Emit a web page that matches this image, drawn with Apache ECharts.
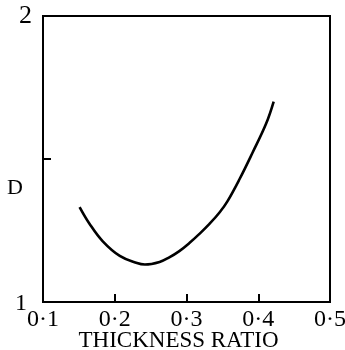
<!DOCTYPE html>
<html>
<head>
<meta charset="utf-8">
<script src="https://cdn.jsdelivr.net/npm/echarts@6/dist/echarts.min.js"></script>
<style>html,body{margin:0;padding:0;background:#fff;}#c{width:345px;height:350px;}</style>
</head>
<body>
<div id="c"></div>
<script>
var thicknessRatio = [0.151, 0.165, 0.183, 0.207, 0.231, 0.242, 0.2625, 0.276, 0.290, 0.304, 0.318, 0.332, 0.346, 0.357, 0.374, 0.392, 0.411, 0.4215];
var dValues = [1.332, 1.273, 1.213, 1.161, 1.136, 1.131, 1.140, 1.156, 1.178, 1.206, 1.238, 1.273, 1.313, 1.352, 1.430, 1.522, 1.624, 1.701];
var xTickLabels = ['0·1', '0·2', '0·3', '0·4', '0·5'];
var yTickLabels = {1: '1', 2: '2'};

var FONT = 'Liberation Serif';
var chart = echarts.init(document.getElementById('c'));
var pts = thicknessRatio.map(function (x, i) { return [x, dValues[i]]; });
chart.setOption({
  animation: false,
  backgroundColor: '#fff',
  grid: { left: 43, right: 15, top: 16, bottom: 48, show: true, borderColor: '#000', borderWidth: 2, containLabel: false, outerBoundsMode: 'none' },
  xAxis: {
    type: 'value', min: 0.1, max: 0.5, interval: 0.1,
    name: 'THICKNESS RATIO', nameLocation: 'middle', nameGap: 27, nameMoveOverlap: false,
    nameTextStyle: { fontFamily: FONT, fontSize: 23, color: '#000', padding: [0, 16, 0, 0] },
    axisLine: { show: true, lineStyle: { color: '#000', width: 2 } },
    axisTick: { show: true, inside: true, length: 8, lineStyle: { color: '#000', width: 2 } },
    splitLine: { show: false },
    axisLabel: {
      margin: 6, fontFamily: FONT, fontSize: 24, color: '#000',
      formatter: function (v) { var i = Math.round((v - 0.1) * 10); return xTickLabels[i] || ''; }
    }
  },
  yAxis: {
    type: 'value', min: 1, max: 2, interval: 0.5,
    axisLine: { show: true, lineStyle: { color: '#000', width: 2 } },
    axisTick: { show: true, inside: true, length: 8, lineStyle: { color: '#000', width: 2 } },
    splitLine: { show: false },
    axisLabel: {
      margin: 11, fontFamily: FONT, color: '#000',
      formatter: function (v) {
        var k = Math.round(v * 10) / 10;
        if (k === 2) return '{a|' + yTickLabels[2] + '}';
        if (k === 1) return '{b|' + yTickLabels[1] + '}';
        return '';
      },
      rich: {
        a: { fontFamily: FONT, fontSize: 26, color: '#000' },
        b: { fontFamily: FONT, fontSize: 24, color: '#000', padding: [4, 5, 0, 0] }
      }
    }
  },
  graphic: [{
    type: 'text', left: 7, top: 177,
    style: { text: 'D', font: '22px "' + FONT + '"', fill: '#000' }
  }],
  series: [{
    type: 'line', data: pts, smooth: 0.4, showSymbol: false,
    lineStyle: { color: '#000', width: 2.6 }
  }]
});
</script>
</body>
</html>
